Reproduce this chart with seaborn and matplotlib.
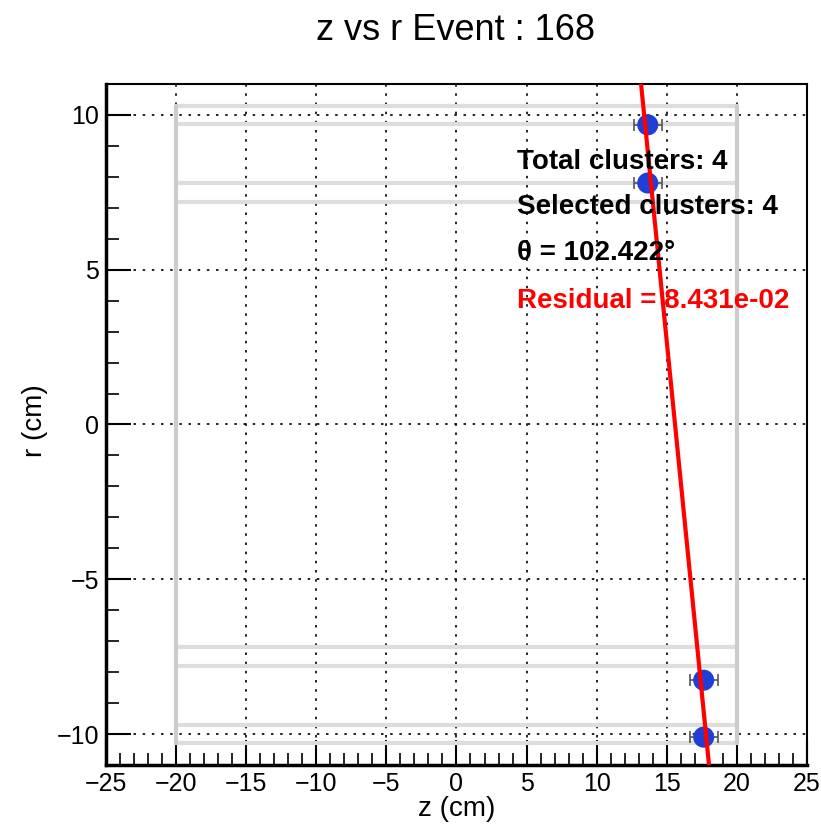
import numpy as np
import pandas as pd
import matplotlib
matplotlib.use("Agg")
import matplotlib.pyplot as plt
from matplotlib.ticker import MultipleLocator
import seaborn as sns

# data
z_points = [13.64, 13.64, 17.63, 17.63]
r_points = [9.68, 7.80, -8.26, -10.10]
z_err = [1.0, 1.0, 1.0, 1.0]
detector_r = [7.2, 7.8, 9.7, 10.3, -7.2, -7.8, -9.7, -10.3]
detector_z = [-20, 20]
x_ticks = [-25, -20, -15, -10, -5, 0, 5, 10, 15, 20, 25]
y_ticks = [-10, -5, 0, 5, 10]
title = "z vs r Event : 168"
labels = ["Total clusters: 4", "Selected clusters: 4", "θ = 102.422°", "Residual = 8.431e-02"]
label_r = [8.48, 7.03, 5.54, 3.99]
label_colors = ["black", "black", "black", "red"]

sns.set_style("white")
plt.rcParams['font.family'] = ['Liberation Sans', 'DejaVu Sans']
plt.rcParams['text.color'] = 'black'
plt.rcParams['axes.labelcolor'] = 'black'
plt.rcParams['xtick.color'] = 'black'
plt.rcParams['ytick.color'] = 'black'

fig = plt.figure(figsize=(8.21, 8.24), dpi=100)
ax = fig.add_axes([0.129, 0.0716, 0.854, 0.8265])

# detector outlines
for r in detector_r:
    ax.plot(detector_z, [r, r], color="#dddddd", lw=3, zorder=1)
for z in detector_z:
    ax.plot([z, z], [-10.3, 10.3], color="#cccccc", lw=3, zorder=1)

# grid
ax.grid(True, which="major", color="black", linestyle=(0, (1.5, 4)), lw=1.2, zorder=2)

# fit line
df = pd.DataFrame({"z": z_points, "r": r_points})
slope, intercept = np.polyfit(df["r"], df["z"], 1)
r_line = np.array([-11.0, 11.0])
line_df = pd.DataFrame({"r": r_line, "z": intercept + slope * r_line})

ax.errorbar(df["z"], df["r"], xerr=z_err, fmt="none", ecolor="#555555",
            elinewidth=1.2, capsize=4, capthick=1.2, zorder=3)
sns.scatterplot(data=df, x="z", y="r", ax=ax, color="#1f3fd6", s=230,
                edgecolor="none", zorder=4)
sns.lineplot(data=line_df, x="z", y="r", ax=ax, color="red", lw=3,
             sort=False, estimator=None, zorder=5)

ax.set_xlim(-25, 25)
ax.set_ylim(-11, 11)
ax.set_xticks(x_ticks)
ax.set_yticks(y_ticks)
ax.xaxis.set_minor_locator(MultipleLocator(1))
ax.yaxis.set_minor_locator(MultipleLocator(1))
ax.tick_params(which="major", direction="in", length=18, width=1.5, labelsize=18,
               bottom=True, left=True, pad=5)
ax.tick_params(which="minor", direction="in", length=9, width=1.2,
               bottom=True, left=True)
ax.set_xticklabels([f"{t}".replace("-", "\u2212") for t in x_ticks])
ax.set_yticklabels([f"{t}".replace("-", "\u2212") for t in y_ticks])
for s in ax.spines.values():
    s.set_color("black")
    s.set_linewidth(1.5)
ax.spines["bottom"].set_linewidth(2.5)
ax.spines["left"].set_linewidth(2.5)

ax.set_xlabel("z (cm)", fontsize=20, labelpad=0)
ax.set_ylabel("r (cm)", fontsize=20, labelpad=0)
ax.xaxis.set_label_coords(0.50, -0.045)
ax.yaxis.set_label_coords(-0.083, 0.505)
fig.text(0.555, 0.963, title, ha="center", va="center", fontsize=26)

for y, t, c in zip(label_r, labels, label_colors):
    ax.text(4.3, y, t, fontsize=20, fontweight="bold", color=c, va="center",
            ha="left", zorder=6)

fig.savefig("out.png", dpi=100)
